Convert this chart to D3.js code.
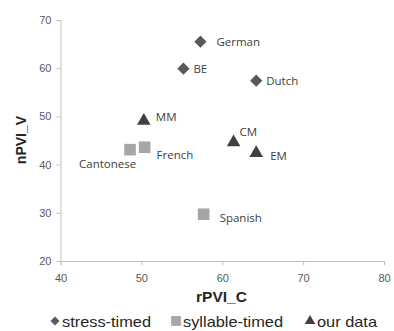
<!DOCTYPE html>
<html><head><meta charset="utf-8">
<script src="https://cdn.jsdelivr.net/npm/d3@7"></script>
<style>body{margin:0;background:#fff}svg{display:block}</style>
</head><body>
<svg id="c" width="394" height="331"></svg>
<script>
const groups = ["stress-timed", "syllable-timed", "our data"];
const names  = ["German","BE","Dutch","Cantonese","French","Spanish","MM","CM","EM"];
const groupOf= [0,0,0,1,1,1,2,2,2];
const rPVI_C = [57.3,55.2,64.2,48.6,50.4,57.7,50.3,61.4,64.2];
const nPVI_V = [65.5,59.9,57.4,43.1,43.6,29.7,49.1,44.6,42.4];
const xTicks = [40,50,60,70,80];
const yTicks = [20,30,40,50,60,70];
// label offsets (dx, dy) relative to marker
const labelDx = [16,10,10,-51,12,16,12,6,14];
const labelDy = [4,4,4,18,12,8,0,-6,7];

const colors = ["#595959","#a6a6a6","#404040"];
const svg = d3.select("#c");
const x = d3.scaleLinear().domain([40,80]).range([60.5,384]);
const y = d3.scaleLinear().domain([20,70]).range([261,20]);

const axisCol = "#bfbfbf";
const xa = svg.append("g").attr("transform","translate(0,261)")
  .call(d3.axisBottom(x).tickValues(xTicks).tickSize(4).tickPadding(9));
const ya = svg.append("g").attr("transform","translate(60.5,0)")
  .call(d3.axisLeft(y).tickValues(yTicks).tickSize(4).tickPadding(5));
[xa,ya].forEach(a=>{
  a.selectAll("path,line").attr("stroke",axisCol);
  a.selectAll("text").attr("fill","#595959").style("font-family","'Liberation Sans Narrow','Liberation Sans',sans-serif").style("font-size","11px");
});

const sym = [d3.symbolSquare, d3.symbolSquare, d3.symbolTriangle];
const rot = [45, 0, 0];
const sizes = [75, 135, 80];
svg.append("g").selectAll("path").data(names).join("path")
  .attr("transform",(d,i)=>`translate(${x(rPVI_C[i])},${y(nPVI_V[i])}) rotate(${rot[groupOf[i]]})`)
  .attr("d",(d,i)=>d3.symbol(sym[groupOf[i]], sizes[groupOf[i]])())
  .attr("fill",(d,i)=>colors[groupOf[i]]);

svg.append("g").selectAll("text").data(names).join("text")
  .attr("x",(d,i)=>x(rPVI_C[i])+labelDx[i])
  .attr("y",(d,i)=>y(nPVI_V[i])+labelDy[i])
  .text(d=>d)
  .attr("fill","#404040")
  .style("font-family","'Open Sans',sans-serif").style("font-size","11.5px");

svg.append("text").attr("x",221.5).attr("y",302).attr("text-anchor","middle")
  .style("font-family","'Liberation Sans',sans-serif").style("font-size","15.5px").style("font-weight","bold")
  .attr("fill","#262626").text("rPVI_C");
svg.append("text").attr("transform","translate(26,140) rotate(-90)").attr("text-anchor","middle")
  .style("font-family","'Liberation Sans',sans-serif").style("font-size","14px").style("font-weight","bold")
  .attr("fill","#262626").text("nPVI_V");

const legX = [55, 176, 310];
const legTextX = [7, 7, 7];
const legLen = [89, 100, 60];
const lg = svg.append("g").selectAll("g").data(groups).join("g")
  .attr("transform",(d,i)=>`translate(${legX[i]},321)`);
lg.append("path").attr("d",(d,i)=>d3.symbol(sym[i], [40,95,48][i])())
  .attr("transform",(d,i)=>`rotate(${rot[i]})`).attr("fill",(d,i)=>colors[i]);
lg.append("text").attr("x",(d,i)=>legTextX[i]).attr("y",5.5).text(d=>d)
  .attr("textLength",(d,i)=>legLen[i]).attr("lengthAdjust","spacingAndGlyphs")
  .attr("fill","#262626").style("font-family","'Liberation Sans',sans-serif").style("font-size","15px");
</script>
</body></html>
